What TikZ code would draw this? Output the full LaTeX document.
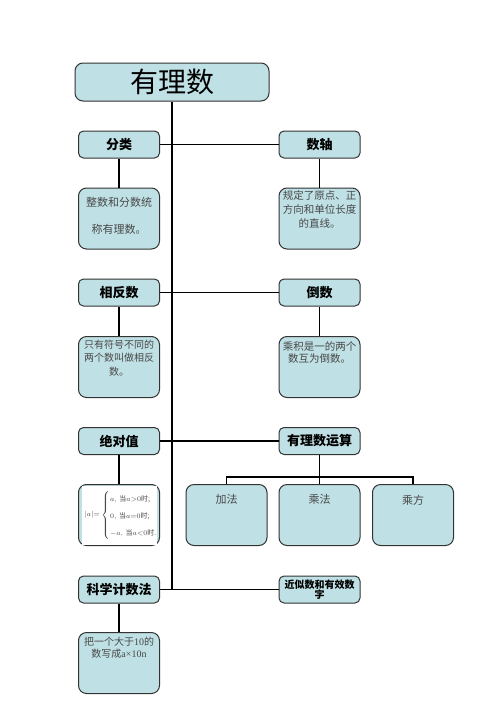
\documentclass[tikz,border=0pt]{standalone}
\usepackage{fontspec}
\setmainfont{Noto Sans CJK SC}
\newfontfamily\serifnum{Liberation Serif}
\definecolor{boxfill}{HTML}{BFE0E4}
\definecolor{boxline}{HTML}{333333}
\definecolor{desctext}{HTML}{484848}
\begin{document}
\begin{tikzpicture}[x=1pt,y=-1pt,
  box/.style={draw=boxline,line width=1pt,fill=boxfill,rounded corners=5pt,inner sep=0pt},
  catbox/.style={box,minimum width=81pt,minimum height=27pt,font=\fontsize{13}{15}\selectfont\bfseries},
  descbox/.style={box,rounded corners=8pt,minimum width=81pt,minimum height=61pt},
  desc/.style={anchor=north,align=center,inner sep=0pt,text=desctext},
  conn/.style={line width=1.8pt,black}]
\useasboundingbox (0,0) rectangle (496,702);
% title
\node[box,rounded corners=8pt,minimum width=194pt,minimum height=38pt,font=\fontsize{28}{30}\selectfont] (title) at (172,82) {有理数};
% category boxes
\node[catbox] (fl) at (119,144.5) {分类};
\node[catbox] (fr) at (319.5,144.5) {数轴};
\node[catbox] (ol) at (119,292.5) {相反数};
\node[catbox] (or) at (319.5,292.5) {倒数};
\node[catbox] (al) at (119,441) {绝对值};
\node[catbox] (ar) at (319.5,441) {有理数运算};
\node[catbox] (sl) at (119,589.5) {科学计数法};
\node[catbox,font=\fontsize{10}{10.5}\selectfont\bfseries,align=center] (sr) at (319.5,589.5) {近似数和有效数\\字};
% description boxes
\node[descbox] (d1) at (119,218.5) {};
\node[descbox] (d2) at (319.5,218.5) {};
\node[descbox] (d3) at (119,367) {};
\node[descbox] (d4) at (319.5,367) {};
\node[descbox] (d5) at (119,515) {};
\node[descbox] (d7) at (119,663) {};
\node[descbox] (p1) at (226.5,515) {};
\node[descbox] (p2) at (319.5,515) {};
\node[descbox] (p3) at (413,515) {};
% texts
\node[desc,font=\fontsize{11}{27}\selectfont] (t1) at (119,197) {整数和分数统\\称有理数。};
\node[desc,font=\fontsize{10.5}{14}\selectfont] (t2) at (319.5,190) {规定了原点、正\\方向和单位长度\\的直线。};
\node[desc,font=\fontsize{10}{13.5}\selectfont] (t3) at (119,339.5) {只有符号不同的\\两个数叫做相反\\数。};
\node[desc,font=\fontsize{10.5}{12.5}\selectfont] (t4) at (319.5,341) {乘积是一的两个\\数互为倒数。};
\node[desc,font=\fontsize{11}{13}\selectfont] (tp1) at (226.5,494.5) {加法};
\node[desc,font=\fontsize{11}{13}\selectfont] (tp2) at (319.5,494.5) {乘法};
\node[desc,font=\fontsize{11}{13}\selectfont] (tp3) at (413,494.5) {乘方};
\node[desc,font=\fontsize{10}{12}\selectfont] (t7) at (119,637) {把一个大于{\serifnum 10}的\\数写成{\serifnum a×10n}};
% absolute value formula
\fill[white] (82,485.5) rectangle (157,544.5);
\node[inner sep=0pt,text=desctext,font=\fontsize{7}{8}\selectfont] (f) at (121,515) {\renewcommand{\arraystretch}{2.1}$|a|{=}\left\{\begin{array}{@{}l@{}}a,\,\mbox{当}a{>}0\mbox{时;}\\ 0,\,\mbox{当}a{=}0\mbox{时;}\\ {-}a,\,\mbox{当}a{<}0\mbox{时.}\end{array}\right.$};
% connectors
\coordinate (bar) at (319.5,477);
\draw[conn] (title.south) -- (title.south |- sl.east) -- (sr.west);
\draw[conn] (title.south |- sl.east) -- (sl.east);
\draw[conn] (fl.east) -- (fr.west);
\draw[conn] (ol.east) -- (or.west);
\draw[conn] (al.east) -- (ar.west);
\draw[conn] (fl.south) -- (d1.north);
\draw[conn] (fr.south) -- (d2.north);
\draw[conn] (ol.south) -- (d3.north);
\draw[conn] (or.south) -- (d4.north);
\draw[conn] (al.south) -- (d5.north);
\draw[conn] (sl.south) -- (d7.north);
\draw[conn] (ar.south) -- (bar);
\draw[conn] (p1.north) -- (p1.north |- bar) -- (p3.north |- bar) -- (p3.north);
\draw[conn] (bar) -- (p2.north);
\end{tikzpicture}
\end{document}
